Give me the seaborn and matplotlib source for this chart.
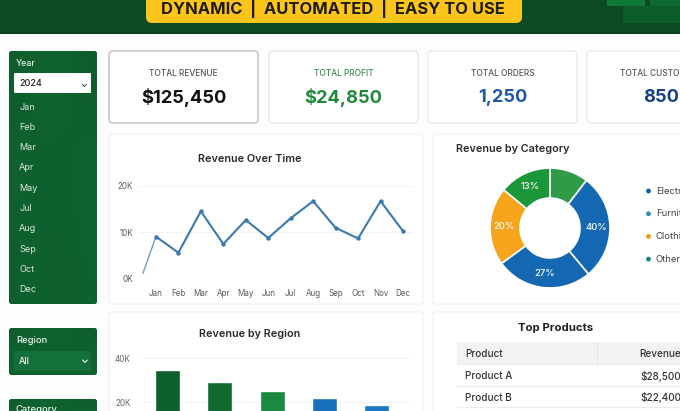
import numpy as np
import pandas as pd
import matplotlib
matplotlib.use("Agg")
import matplotlib.pyplot as plt
from matplotlib.patches import FancyBboxPatch, Rectangle, Circle
import seaborn as sns

# ---------- data ----------
headline = "DYNAMIC  |  AUTOMATED  |  EASY TO USE"
sidebar_months = ["Jan", "Feb", "Mar", "Apr", "May", "Jul", "Aug", "Sep", "Oct", "Dec"]
kpi_titles = ["TOTAL REVENUE", "TOTAL PROFIT", "TOTAL ORDERS", "TOTAL CUSTOMERS"]
kpi_values = ["$125,450", "$24,850", "1,250", "850"]

month_labels = ["Jan", "Feb", "Mar", "Apr", "May", "Jun", "Jul", "Aug", "Sep", "Oct", "Nov", "Dec"]
month_pos = [0, 1, 2, 3, 4, 5, 6, 7, 8, 9, 10, 11]
month_revenue = [9.0, 5.5, 14.5, 7.4, 12.6, 8.7, 13.0, 16.7, 10.9, 8.6, 16.7, 10.2]
lead_pos = [-0.58, 0]
lead_revenue = [1.0, 9.0]

region_names = ["North", "South", "East", "West", "Central"]
region_revenue = [34.5, 29.0, 25.0, 21.8, 18.6]
region_colors = ["#0d5f2c", "#0f6a30", "#1a8a3e", "#1a70b8", "#1b78c4"]

cat_share = [10.4, 28.5, 26.0, 21.0, 14.0]
cat_labels = ["", "40%", "27%", "20%", "13%"]
cat_colors = ["#2f9a48", "#1468b2", "#1468b2", "#f6a41c", "#1b9639"]
legend_names = ["Electronics", "Furniture", "Clothing", "Others"]
legend_colors = ["#14609f", "#2b8dbb", "#f09a14", "#17867c"]

table_products = ["Product A", "Product B", "Product C"]
table_revenues = ["$28,500", "$22,400", "$18,200"]

# ---------- setup ----------
sns.set_theme(style="white")
plt.rcParams["font.family"] = ["Inter", "DejaVu Sans"]
W, H = 680, 411
fig = plt.figure(figsize=(W / 100, H / 100), dpi=100, facecolor="#fdfdfd")

bg = fig.add_axes([0, 0, 1, 1], zorder=0)
bg.set_xlim(0, W)
bg.set_ylim(H, 0)
bg.axis("off")


def axes_px(x0, y0, x1, y1, **kw):
    return fig.add_axes([x0 / W, 1 - y1 / H, (x1 - x0) / W, (y1 - y0) / H], **kw)


def box(x0, y0, x1, y1, r=3, fc="white", ec="none", lw=0, z=1):
    p = FancyBboxPatch((x0 + r, y0 + r), x1 - x0 - 2 * r, y1 - y0 - 2 * r,
                       boxstyle=f"round,pad={r},rounding_size={r}",
                       fc=fc, ec=ec, lw=lw, zorder=z, mutation_aspect=1)
    bg.add_patch(p)
    return p


def green_box(x0, y0, x1, y1):
    p = box(x0, y0, x1, y1, r=3, fc="#0f5f2c")
    grad = np.array([[0.0, 0.35, 0.2, 0.0], [0.25, 0.0, 0.1, 0.3], [0.05, 0.2, 0.0, 0.15]])
    cm = matplotlib.colors.LinearSegmentedColormap.from_list("g", ["#0e5d2d", "#116633"])
    im = bg.imshow(grad, extent=(x0, x1, y1, y0), cmap=cm, interpolation="bicubic",
                   aspect="auto", zorder=1.5)
    im.set_clip_path(p)
    bg.set_xlim(0, W)
    bg.set_ylim(H, 0)


def t(x, y, s, size, color="#222222", ha="left", weight="normal", z=5):
    bg.text(x, y, s, fontsize=size, color=color, ha=ha, va="center", fontweight=weight, zorder=z)


# ---------- header ----------
bg.add_patch(Rectangle((0, 0), W, 33, fc="#0b4a22", ec="none", zorder=1))
bg.add_patch(Rectangle((0, 32.5), W, 1.5, fc="#0a3f1c", ec="none", zorder=1))
box(146, -12, 522, 23, r=6, fc="#fcc51c", z=2)
t(333, 9, headline, 11.9, color="#1d1a10", ha="center", weight="bold")
bg.add_patch(Rectangle((607, 0), 38, 6, fc="#0f7a38", ec="none", zorder=2))
bg.add_patch(Rectangle((650, 0), 30, 6, fc="#0d6a31", ec="none", zorder=2))
bg.add_patch(Rectangle((623, 6), 57, 17, fc="#0d5c2b", ec="none", zorder=2))

# ---------- sidebar ----------
green_box(9, 51, 97, 304)
t(16, 63, "Year", 6.4, color="#e4efe4", weight="medium")
box(14, 73, 91, 93, r=1, fc="white", z=3)
t(19, 84, "2024", 6.5, color="#222222", weight="medium")
t(84, 84, "\u2304", 6, color="#333333", ha="center", weight="bold")
for i, m in enumerate(sidebar_months):
    t(19, 107 + i * 20.3, m, 6.5, color="#d9e8da")

green_box(9, 328, 97, 375)
bg.add_patch(Rectangle((14, 351), 77, 20, fc="#14703a", ec="none", zorder=2))
t(16, 340, "Region", 6.8, color="#eef5ee", weight="medium")
t(19, 361, "All", 6.5, color="#eef5ee", weight="medium")
t(84, 360, "\u2304", 7, color="#eef5ee", ha="center", weight="bold")
green_box(9, 399, 97, 430)
t(16, 409, "Category", 6.8, color="#eef5ee", weight="medium")

# ---------- KPI cards ----------
card_x = [(109, 258), (269, 418), (428, 577), (587, 736)]
card_ec = ["#cccccc", "#e6e6e6", "#ebebeb", "#ebebeb"]
card_lw = [1.3, 1.0, 1.0, 1.0]
title_col = ["#555555", "#3c8a52", "#555555", "#555555"]
val_col = ["#111111", "#1e8a3a", "#1f5aa0", "#173f8a"]
for (x0, x1), ec, lw, tc, vc, title, val in zip(card_x, card_ec, card_lw, title_col, val_col,
                                                 kpi_titles, kpi_values):
    box(x0, 51, x1, 123, r=4, fc="white", ec=ec, lw=lw)
    cx = (x0 + x1) / 2
    t(cx, 73, title, 6.0, color=tc, ha="center", weight="medium")
    t(cx, 97, val, 13.2, color=vc, ha="center", weight="bold")

# ---------- chart panels ----------
for (x0, y0, x1, y1) in [(109, 134, 423, 304), (433, 134, 740, 304),
                         (109, 312, 423, 440), (433, 312, 740, 440)]:
    box(x0, y0, x1, y1, r=4, fc="white", ec="#f3f3f3", lw=1)

t(250, 158.5, "Revenue Over Time", 7.8, color="#2a2a2a", ha="center", weight="semibold")
t(250, 333.5, "Revenue by Region", 7.8, color="#2a2a2a", ha="center", weight="semibold")
t(456, 149, "Revenue by Category", 7.8, color="#2a2a2a", weight="semibold")
t(556, 328, "Top Products", 8.2, color="#1f1f1f", ha="center", weight="bold")

# ---------- line chart ----------
ax = axes_px(140, 186, 412, 278, zorder=2)
ax.patch.set_alpha(0)
line_df = pd.DataFrame({"pos": month_pos, "rev": month_revenue})
lead_df = pd.DataFrame({"pos": lead_pos, "rev": lead_revenue})
sns.lineplot(data=lead_df, x="pos", y="rev", color="#6f9fc8", lw=1.0, ax=ax)
sns.lineplot(data=line_df, x="pos", y="rev", color="#3a78ad", lw=1.5, marker="o",
             markersize=3.2, markeredgewidth=0, ax=ax)
ax.set_xlim(-0.71, 11.4)
ax.set_ylim(0, 20)
ax.set_yticks([0, 10, 20], ["0K", "10K", "20K"])
ax.set_xticks(month_pos, month_labels)
ax.set_xlabel("")
ax.set_ylabel("")
ax.tick_params(axis="both", length=0, labelsize=5.8, labelcolor="#5a5a5a")
ax.tick_params(axis="x", pad=8)
ax.tick_params(axis="y", pad=5)
ax.grid(axis="y", color="#f3f3f3", lw=0.8)
ax.set_axisbelow(True)
sns.despine(ax=ax, left=True, bottom=True, top=True, right=True)

# ---------- bar chart ----------
ax2 = axes_px(143, 358, 410, 446, zorder=2)
ax2.patch.set_alpha(0)
bar_df = pd.DataFrame({"region": region_names, "rev": region_revenue})
sns.barplot(data=bar_df, x="region", y="rev", hue="region", palette=region_colors,
            width=0.48, legend=False, saturation=1, ax=ax2)
ax2.set_xlim(-0.47, 4.64)
ax2.set_ylim(0, 40)
ax2.set_yticks([0, 20, 40], ["0K", "20K", "40K"])
ax2.set_xticks([])
ax2.set_xlabel("")
ax2.set_ylabel("")
ax2.tick_params(axis="y", length=0, labelsize=5.8, labelcolor="#666666", pad=9)
ax2.grid(axis="y", color="#f3f3f3", lw=0.8)
ax2.set_axisbelow(True)
sns.despine(ax=ax2, left=True, bottom=True, top=True, right=True)

# ---------- donut ----------
ax3 = axes_px(550 - 61, 228 - 61, 550 + 61, 228 + 61, zorder=2)
wedges, _ = ax3.pie(cat_share, colors=cat_colors, startangle=90, counterclock=False,
                    radius=1, wedgeprops=dict(width=0.5, edgecolor="white", linewidth=1.2))
ax3.set_xlim(-1.017, 1.017)
ax3.set_ylim(-1.017, 1.017)
for w, lab in zip(wedges, cat_labels):
    ang = np.deg2rad((w.theta1 + w.theta2) / 2)
    ax3.text(0.77 * np.cos(ang), 0.77 * np.sin(ang), lab, ha="center", va="center",
             fontsize=6.8, color="white", fontweight="medium")

for i, (name, col) in enumerate(zip(legend_names, legend_colors)):
    y = 191 + i * 22.7
    bg.add_patch(Circle((648.5, y), 2.4, fc=col, ec="none", zorder=3))
    t(656, y, name, 6.8, color="#444444")

# ---------- table ----------
bg.add_patch(Rectangle((457, 342), 240, 22, fc="#f3f3f3", ec="none", zorder=2))
for y in [364, 386, 407]:
    bg.plot([457, 697], [y, y], color="#ececec", lw=0.8, zorder=3)
bg.plot([597, 597], [342, 364], color="#e4e4e4", lw=0.8, zorder=3)
t(465, 354, "Product", 7.2, color="#333333", weight="medium")
t(681, 354, "Revenue", 7.2, color="#333333", ha="right", weight="medium")
for i, (p, r) in enumerate(zip(table_products, table_revenues)):
    y = 376 + i * 21.5
    t(465, y, p, 7.2, color="#333333", weight="medium")
    t(681, y, r, 7.2, color="#333333", ha="right", weight="medium")
bg.set_xlim(0, W)
bg.set_ylim(H, 0)

fig.savefig("out.png", dpi=100, facecolor=fig.get_facecolor())
